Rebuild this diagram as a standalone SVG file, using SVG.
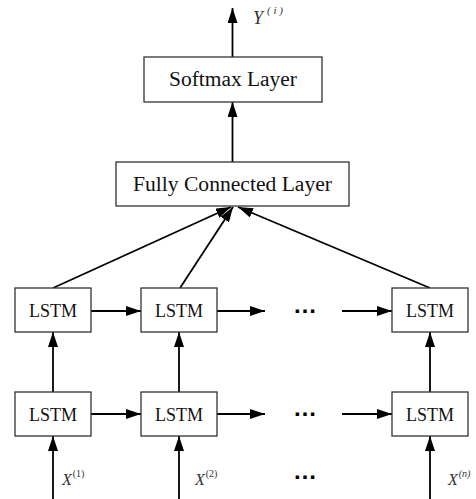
<svg xmlns="http://www.w3.org/2000/svg" width="476" height="499" viewBox="0 0 476 499">
<defs>
<marker id="ah" markerWidth="15" markerHeight="10" refX="15" refY="5" orient="auto" markerUnits="userSpaceOnUse">
<path d="M0,0 L15,5 L0,10 Z" fill="#000"/>
</marker>
</defs>
<style>
.box{fill:#fff;stroke:#333;stroke-width:1.3}
.t{font-family:"Liberation Serif","Times New Roman",serif;fill:#111;text-anchor:middle}
.lbl{font-family:"Liberation Serif","Times New Roman",serif;font-style:italic;fill:#333}
.c{stroke:#000;stroke-width:1.8;fill:none;marker-end:url(#ah)}
.dots{font-family:"Liberation Sans",Arial,sans-serif;font-weight:bold;font-size:24px;text-anchor:middle;fill:#000}
</style>
<rect width="476" height="499" fill="#fff"/>
<g id="connectors">
<line class="c" x1="232.5" y1="57" x2="232.5" y2="8"/>
<line class="c" x1="232.5" y1="162" x2="232.5" y2="102"/>
<line class="c" x1="53" y1="288" x2="231" y2="207"/>
<line class="c" x1="180" y1="288" x2="233" y2="207"/>
<line class="c" x1="430" y1="288" x2="238" y2="207"/>
<line class="c" x1="53" y1="392" x2="53" y2="332"/>
<line class="c" x1="179" y1="392" x2="179" y2="332"/>
<line class="c" x1="430" y1="392" x2="430" y2="332"/>
<line class="c" x1="53" y1="499" x2="53" y2="436"/>
<line class="c" x1="179" y1="499" x2="179" y2="436"/>
<line class="c" x1="430" y1="499" x2="430" y2="436"/>
<line class="c" x1="91" y1="311" x2="141" y2="311"/>
<line class="c" x1="217" y1="311" x2="265" y2="311"/>
<line class="c" x1="342" y1="311" x2="392" y2="311"/>
<line class="c" x1="91" y1="414" x2="141" y2="414"/>
<line class="c" x1="217" y1="414" x2="265" y2="414"/>
<line class="c" x1="342" y1="414" x2="392" y2="414"/>
</g>
<g id="softmax">
<rect class="box" x="144" y="57" width="178" height="45"/>
<text class="t" x="233" y="86" font-size="20" textLength="128" lengthAdjust="spacingAndGlyphs">Softmax Layer</text>
</g>
<g id="fc">
<rect class="box" x="116" y="162" width="233" height="44"/>
<text class="t" x="232.5" y="191" font-size="20" textLength="199" lengthAdjust="spacingAndGlyphs">Fully Connected Layer</text>
</g>
<g id="lstm-1-1"><rect class="box" x="15" y="288" width="76" height="44"/><text class="t" x="53" y="317" font-size="18">LSTM</text></g>
<g id="lstm-1-2"><rect class="box" x="141" y="288" width="76" height="44"/><text class="t" x="179" y="317" font-size="18">LSTM</text></g>
<g id="lstm-1-n"><rect class="box" x="392" y="288" width="76" height="44"/><text class="t" x="430" y="317" font-size="18">LSTM</text></g>
<g id="lstm-2-1"><rect class="box" x="15" y="392" width="76" height="44"/><text class="t" x="53" y="421" font-size="18">LSTM</text></g>
<g id="lstm-2-2"><rect class="box" x="141" y="392" width="76" height="44"/><text class="t" x="179" y="421" font-size="18">LSTM</text></g>
<g id="lstm-2-n"><rect class="box" x="392" y="392" width="76" height="44"/><text class="t" x="430" y="421" font-size="18">LSTM</text></g>
<g id="dots">
<text class="dots" x="305" y="313">…</text>
<text class="dots" x="305" y="416">…</text>
<text class="dots" x="305" y="479">…</text>
</g>
<g id="labels">
<text class="lbl" x="253" y="24" font-size="18" fill="#555">Y<tspan font-size="11" dy="-10" dx="4">( i )</tspan></text>
<text class="lbl" x="62" y="485" font-size="16">X<tspan font-size="10" font-style="normal" dy="-8" dx="1">(1)</tspan></text>
<text class="lbl" x="195" y="485" font-size="16">X<tspan font-size="10" font-style="normal" dy="-8" dx="1">(2)</tspan></text>
<text class="lbl" x="448" y="485" font-size="16">X<tspan font-size="10" dy="-8" dx="1">(n)</tspan></text>
</g>
</svg>
